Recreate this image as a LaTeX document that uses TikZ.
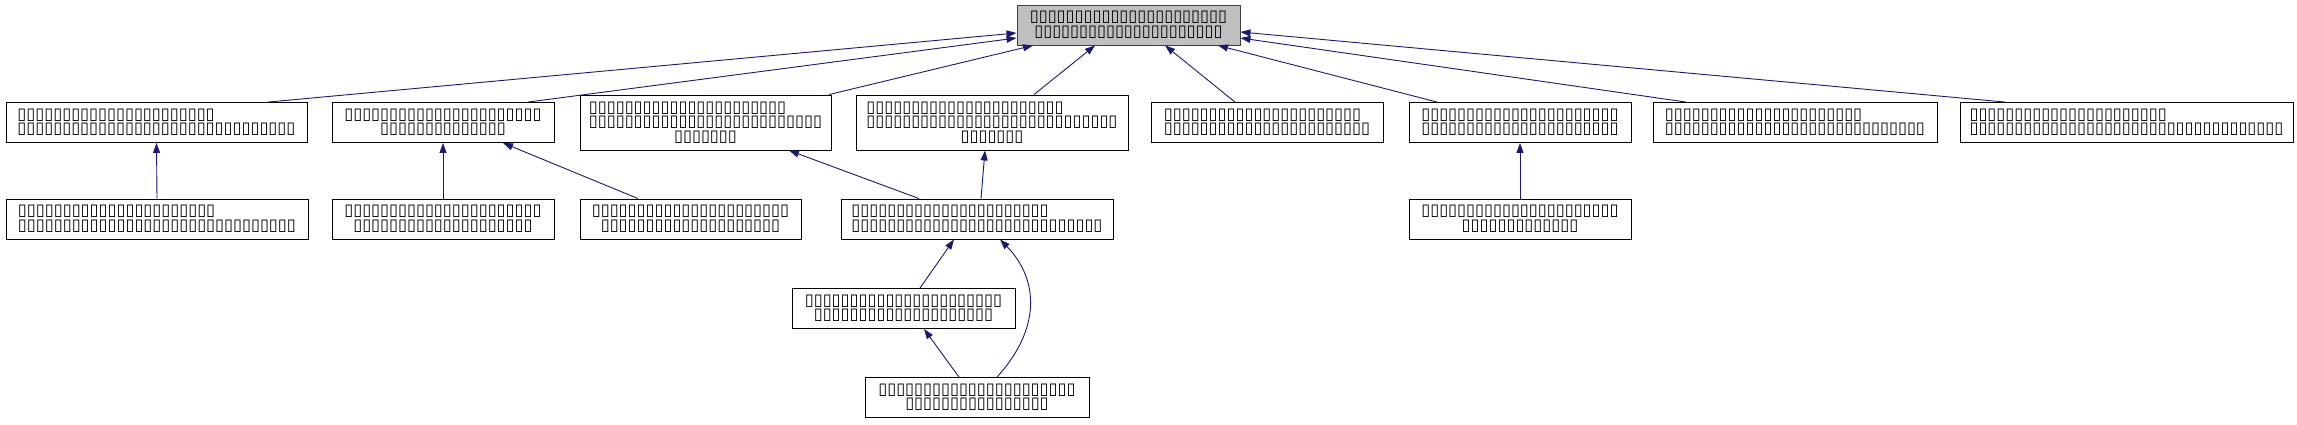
\documentclass[tikz,border=0pt]{standalone}
\usepackage{fontspec}
\usetikzlibrary{arrows.meta}
\newfontfamily\tofufont{DejaVu Sans}
\definecolor{edgeblue}{RGB}{25,25,112}
\newcommand{\tofu}[1]{\foreach\k in {1,...,#1}{▯}}
\newcommand{\ctr}[1]{\hspace*{\fill}#1\hspace*{\fill}}
\begin{document}
\begin{tikzpicture}[
    x=1pt, y=-1pt,
    >={Triangle[length=10pt,width=7pt]},
    clase/.style={
        draw,
        line width=0.9pt,
        fill=white,
        inner sep=0pt,
        minimum height=40pt,
        font=\tofufont\fontsize{16.3}{14.5}\selectfont
    },
    base/.style={clase, fill=black!25, draw=black!75, align=center},
    dep/.style={->, draw=edgeblue, line width=0.9pt}
]
    \useasboundingbox (0,0) rectangle (2297,424);

    \node[base, minimum width=223] (base) at (1128.5,25)
        {\tofu{22}\\\tofu{21}};

    \node[clase, align=left, minimum width=301] (cls1) at (156.5,122.5)
        {\tofu{22}\\\tofu{31}};
    \node[clase, align=center, minimum width=222] (cls2) at (443,122.5)
        {\tofu{22}\\\tofu{14}};
    \node[clase, align=left, minimum width=251, minimum height=55] (cls3) at (705.5,122.5)
        {\tofu{22}\\\tofu{26}\\\ctr{\tofu{7}}};
    \node[clase, align=left, minimum width=272, minimum height=55] (cls4) at (992,122.5)
        {\tofu{22}\\\tofu{28}\\\ctr{\tofu{7}}};
    \node[clase, align=left, minimum width=232] (cls5) at (1267,122.5)
        {\tofu{22}\\\tofu{23}};
    \node[clase, align=center, minimum width=222] (cls6) at (1520,122.5)
        {\tofu{22}\\\tofu{22}};
    \node[clase, align=left, minimum width=284] (cls7) at (1795,122.5)
        {\tofu{22}\\\tofu{29}};
    \node[clase, align=left, minimum width=333] (cls8) at (2126.5,122.5)
        {\tofu{22}\\\tofu{35}};

    \node[clase, align=left, minimum width=302] (sub1) at (157,219)
        {\tofu{22}\\\tofu{31}};
    \node[clase, align=center, minimum width=222] (sub2) at (443,219)
        {\tofu{22}\\\tofu{20}};
    \node[clase, align=center, minimum width=221] (sub3) at (690.5,219)
        {\tofu{22}\\\tofu{20}};
    \node[clase, align=left, minimum width=272] (sub4) at (977,219)
        {\tofu{22}\\\tofu{28}};
    \node[clase, align=center, minimum width=222] (sub5) at (1520,219)
        {\tofu{22}\\\tofu{13}};

    \node[clase, align=center, minimum width=223] (leaf1) at (903.5,308.5)
        {\tofu{22}\\\tofu{20}};
    \node[clase, align=center, minimum width=224] (leaf2) at (977,397.5)
        {\tofu{22}\\\tofu{16}};

    % herencia hacia la clase base
    \draw[dep] ([xshift=111.5pt]cls1.north) -- ([yshift=-8pt]base.west);
    \draw[dep] ([xshift=85pt]cls2.north) -- ([yshift=-13pt]base.west);
    \draw[dep] ([xshift=123.5pt]cls3.north) -- ([xshift=-95.5pt]base.south);
    \draw[dep] ([xshift=42pt]cls4.north) -- ([xshift=-33.5pt]base.south);
    \draw[dep] ([xshift=-32pt]cls5.north) -- ([xshift=36.5pt]base.south);
    \draw[dep] ([xshift=-83pt]cls6.north) -- ([xshift=89.5pt]base.south);
    \draw[dep] ([xshift=-109pt]cls7.north) -- ([yshift=-13pt]base.east);
    \draw[dep] ([xshift=-121.5pt]cls8.north) -- ([yshift=-7pt]base.east);

    \draw[dep] (sub1.north) -- (cls1.south);
    \draw[dep] (sub2.north) -- (cls2.south);
    \draw[dep] ([xshift=-52.5pt]sub3.north) -- ([xshift=60pt]cls2.south);
    \draw[dep] ([xshift=-58pt]sub4.north) -- ([xshift=83.5pt]cls3.south);
    \draw[dep] ([xshift=4pt]sub4.north) -- ([xshift=-7pt]cls4.south);
    \draw[dep] (sub5.north) -- (cls6.south);

    \draw[dep] ([xshift=16.5pt]leaf1.north) -- ([xshift=-23pt]sub4.south);
    \draw[dep] ([xshift=20pt]leaf2.north)
        .. controls +(43,-47) and +(40,41) .. ([xshift=23pt]sub4.south);
    \draw[dep] ([xshift=-18pt]leaf2.north) -- ([xshift=20.5pt]leaf1.south);
\end{tikzpicture}
\end{document}
